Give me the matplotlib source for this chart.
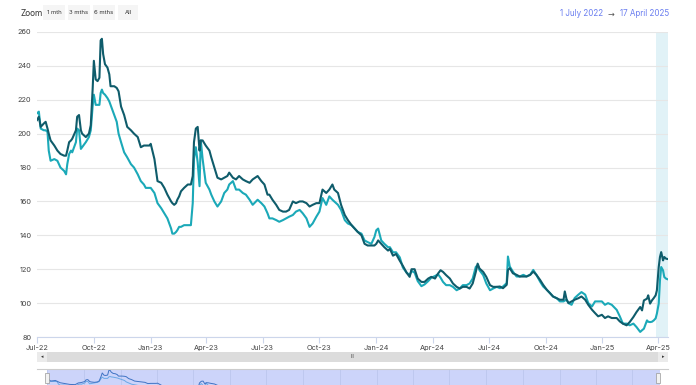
import matplotlib
matplotlib.use('Agg')
import matplotlib.pyplot as plt
import matplotlib.dates as mdates
from matplotlib.patches import Rectangle
import pandas as pd

plt.rcParams['font.family'] = ['Inter', 'DejaVu Sans']

# ---- data (two price series, Jul 2022 - Apr 2025) ----
dates = [
    '2022-07-01', '2022-07-04', '2022-07-07', '2022-07-12', '2022-07-15', '2022-07-18', '2022-07-20',
    '2022-07-23', '2022-07-29', '2022-08-03', '2022-08-08', '2022-08-14', '2022-08-17', '2022-08-19',
    '2022-08-22', '2022-08-25', '2022-08-27', '2022-09-02', '2022-09-04', '2022-09-07', '2022-09-10',
    '2022-09-12', '2022-09-18', '2022-09-23', '2022-09-26', '2022-09-29', '2022-10-01', '2022-10-04',
    '2022-10-07', '2022-10-10', '2022-10-12', '2022-10-14', '2022-10-16', '2022-10-19', '2022-10-23',
    '2022-10-26', '2022-10-28', '2022-11-03', '2022-11-07', '2022-11-10', '2022-11-14', '2022-11-19',
    '2022-11-24', '2022-11-30', '2022-12-05', '2022-12-11', '2022-12-16', '2022-12-21', '2022-12-24',
    '2022-12-30', '2023-01-01', '2023-01-07', '2023-01-12', '2023-01-18', '2023-01-23', '2023-01-28',
    '2023-02-03', '2023-02-05', '2023-02-08', '2023-02-11', '2023-02-13', '2023-02-16', '2023-02-19',
    '2023-02-24', '2023-03-02', '2023-03-07', '2023-03-10', '2023-03-12', '2023-03-15', '2023-03-18',
    '2023-03-21', '2023-03-23', '2023-03-26', '2023-03-31', '2023-04-06', '2023-04-09', '2023-04-14',
    '2023-04-19', '2023-04-25', '2023-04-30', '2023-05-05', '2023-05-08', '2023-05-14', '2023-05-19',
    '2023-05-24', '2023-05-30', '2023-06-04', '2023-06-10', '2023-06-15', '2023-06-23', '2023-06-29',
    '2023-07-04', '2023-07-09', '2023-07-12', '2023-07-17', '2023-07-23', '2023-07-28', '2023-08-03',
    '2023-08-08', '2023-08-13', '2023-08-19', '2023-08-24', '2023-08-30', '2023-09-04', '2023-09-10',
    '2023-09-15', '2023-09-20', '2023-09-26', '2023-10-01', '2023-10-06', '2023-10-12', '2023-10-17',
    '2023-10-22', '2023-10-25', '2023-10-31', '2023-11-05', '2023-11-11', '2023-11-16', '2023-11-22',
    '2023-11-27', '2023-12-02', '2023-12-08', '2023-12-13', '2023-12-18', '2023-12-24', '2023-12-29',
    '2024-01-01', '2024-01-04', '2024-01-09', '2024-01-14', '2024-01-20', '2024-01-23', '2024-01-28',
    '2024-02-02', '2024-02-08', '2024-02-13', '2024-02-19', '2024-02-24', '2024-02-27', '2024-03-03',
    '2024-03-08', '2024-03-14', '2024-03-19', '2024-03-25', '2024-03-30', '2024-04-05', '2024-04-10',
    '2024-04-14', '2024-04-18', '2024-04-23', '2024-04-29', '2024-05-04', '2024-05-10', '2024-05-15',
    '2024-05-20', '2024-05-26', '2024-05-31', '2024-06-05', '2024-06-10', '2024-06-13', '2024-06-16',
    '2024-06-22', '2024-06-27', '2024-07-03', '2024-07-08', '2024-07-14', '2024-07-19', '2024-07-24',
    '2024-07-30', '2024-08-01', '2024-08-04', '2024-08-09', '2024-08-15', '2024-08-20', '2024-08-26',
    '2024-08-31', '2024-09-06', '2024-09-11', '2024-09-16', '2024-09-22', '2024-09-27', '2024-10-03',
    '2024-10-08', '2024-10-13', '2024-10-19', '2024-10-24', '2024-10-30', '2024-11-01', '2024-11-04',
    '2024-11-07', '2024-11-12', '2024-11-17', '2024-11-23', '2024-11-28', '2024-12-04', '2024-12-09',
    '2024-12-15', '2024-12-20', '2024-12-25', '2024-12-31', '2025-01-05', '2025-01-10', '2025-01-16',
    '2025-01-24', '2025-01-29', '2025-02-03', '2025-02-09', '2025-02-14', '2025-02-20', '2025-02-25',
    '2025-03-03', '2025-03-06', '2025-03-09', '2025-03-14', '2025-03-16', '2025-03-19', '2025-03-22',
    '2025-03-25', '2025-03-28', '2025-03-30', '2025-04-02', '2025-04-04', '2025-04-06', '2025-04-09',
    '2025-04-11', '2025-04-14', '2025-04-17',
]

dark = [
    208, 210, 204, 206, 207, 203, 200, 196, 193, 190, 188, 187, 187, 190,
    195, 196, 197, 202, 210, 211, 202, 200, 198, 200, 205, 226, 243, 232,
    231, 233, 255, 256, 247, 241, 239, 235, 228, 228, 227, 225, 216, 211,
    204, 202, 200, 198, 192, 193, 193, 193, 194, 185, 172, 171, 168, 164,
    160, 159, 158, 159, 161, 163, 166, 168, 170, 170, 175, 195, 203, 204,
    190, 196, 196, 193, 190, 186, 180, 174, 173, 174, 175, 177, 174, 173,
    175, 173, 172, 171, 173, 175, 172, 170, 164, 164, 161, 158, 155, 154,
    154, 155, 160, 159, 160, 160, 159, 157, 158, 159, 159, 167, 165, 167,
    170, 167, 165, 158, 152, 149, 146, 144, 142, 140, 135, 134, 134, 134,
    135, 137, 135, 133, 131, 132, 128, 129, 125, 122, 118, 115.5, 120, 120,
    114.5, 112.5, 112.5, 114.5, 115.5, 114.5, 117.5, 119.4, 118.4, 116.5, 114.5, 111.6, 109.6, 108.6,
    109.6, 109.6, 108.6, 111.6, 118.4, 123.3, 120.4, 118.4, 115.5, 110.6, 109.6, 109.6, 109.8, 108.8,
    110.8, 119.6, 120.6, 117.6, 116.7, 115.7, 115.7, 115.7, 116.7, 118.6, 116.7, 113.7, 110.8, 107.8,
    105.9, 103.9, 102.9, 102, 102, 106.9, 102, 100, 101, 102, 102.9, 103.9, 102, 99,
    96.1, 94.1, 92.2, 93.1, 91.2, 92.2, 91.2, 91.2, 89.2, 87.9, 86.9, 88.8, 91.8, 94.7,
    97.7, 95.7, 101.6, 102.6, 104.6, 99.7, 101.6, 103, 104.6, 107.5, 121.3, 127.2, 130.1, 125.2,
    127.2, 126.2, 126,
]

light = [
    212, 213, 203, 202, 202, 201, 190, 184, 185, 184, 180, 178, 176, 182,
    188, 190, 189, 195, 203, 202, 191, 192, 195, 198, 202, 216, 223, 217,
    217, 217, 224, 226, 224, 223, 221, 219, 217, 211, 207, 200, 195, 189,
    186, 182, 180, 176, 172, 170, 168, 168, 168, 165, 159, 156, 153, 150,
    144, 141, 141, 142, 143, 145, 145, 146, 146, 146, 159, 185, 192, 183,
    169, 196, 185, 171, 167, 164, 160, 157, 160, 165, 167, 170, 172, 167,
    167, 165, 164, 161, 158, 161, 159, 157, 153, 150, 150, 149, 148, 149,
    150, 151, 152, 154, 155, 153, 150, 145, 147, 151, 154, 162, 158, 163,
    161, 160, 158, 155, 149, 147, 146, 144, 142, 141, 137, 136, 135, 139,
    143, 144, 137, 135, 133, 133, 130, 130, 127, 121, 118, 116.5, 119, 118,
    113, 110, 111, 113, 115, 116, 117, 115, 112.5, 110.6, 110.6, 109.6, 107.6, 108.6,
    110.6, 110.6, 111.6, 114.5, 121.4, 122.4, 119.4, 116.5, 111.6, 107.6, 108.6, 109.6, 108.8, 109.8,
    111.8, 127.5, 121.6, 118.6, 115.7, 115.7, 116.7, 115.7, 116.7, 119.6, 116.7, 112.7, 109.8, 107.8,
    105.9, 103.9, 102.9, 101, 101, 101.5, 102, 100, 99, 103, 105, 106.5, 105, 100,
    98, 101, 101, 101, 99, 100, 99, 96, 92.2, 87.9, 87.9, 86.9, 87.9, 85.9,
    83, 84, 84.9, 89.8, 89, 88.8, 89, 89.8, 91, 93.8, 99.7, 113.4, 121.3, 119.3,
    115.4, 114.4, 114,
]

yticks = [80, 100, 120, 140, 160, 180, 200, 220, 240, 260]
zoom_buttons = ['1 mth', '3 mths', '6 mths', 'All']
range_from = '1 July 2022'
range_to = '17 April 2025'
band_start = '2025-03-29'

x = pd.to_datetime(dates)
dark_col = '#0f5c6b'
light_col = '#1ba9b8'

W, H = 696, 385
fig = plt.figure(figsize=(W / 100, H / 100), dpi=100)


def fx(px):
    return px / W


def fy(py):
    return 1 - py / H


# ---- main plot ----
ax = fig.add_axes([fx(37), fy(337), fx(668 - 37), (337 - 32) / H])
ax.axvspan(pd.Timestamp(band_start), x[-1], color='#e1f2f7', lw=0, zorder=0)
ax.plot(x, light, color=light_col, lw=1.5, zorder=3)
ax.plot(x, dark, color=dark_col, lw=1.5, zorder=4)

ax.set_xlim(x[0], x[-1])
ax.set_ylim(80, 260)
ax.set_yticks(yticks)
ax.yaxis.grid(True, color='#e6e6e6', lw=0.8)
ax.set_axisbelow(True)
for s in ['top', 'right', 'left']:
    ax.spines[s].set_visible(False)
ax.spines['bottom'].set_color('#ccd6eb')
ax.spines['bottom'].set_linewidth(0.8)
ax.xaxis.set_major_locator(mdates.MonthLocator(bymonth=[1, 4, 7, 10]))
ax.xaxis.set_major_formatter(mdates.DateFormatter('%b-%y'))
ax.tick_params(axis='x', length=4, width=0.8, color='#ccd6eb', labelsize=5.3,
               labelcolor='#444444', pad=1.5)
ax.tick_params(axis='y', length=0, labelsize=5.3, labelcolor='#444444', pad=4)

# ---- header ----
fig.text(fx(21), fy(13), 'Zoom', fontsize=6, color='#333333', va='center', ha='left')
btn_x = [43, 68, 93, 118]
btn_w = [22, 22, 22, 20]
for bx, bw, lab in zip(btn_x, btn_w, zoom_buttons):
    fig.patches.append(Rectangle((fx(bx), fy(20)), fx(bw), 15 / H, transform=fig.transFigure,
                                 facecolor='#f5f5f5', edgecolor='none'))
    fig.text(fx(bx + bw / 2), fy(12.5), lab, fontsize=4.3, color='#333333',
             ha='center', va='center')
fig.text(fx(603), fy(14), range_from, fontsize=5.8, color='#6b7ff0', ha='right', va='center')
fig.text(fx(611), fy(14), '\u2192', fontsize=5.8, color='#555555', ha='center', va='center',
         family=['DejaVu Sans'])
fig.text(fx(620), fy(14), range_to, fontsize=5.8, color='#6b7ff0', ha='left', va='center')

# ---- scrollbar ----
fig.patches.append(Rectangle((fx(37), fy(362)), fx(631), 10 / H, transform=fig.transFigure,
                             facecolor='#dcdcdc', edgecolor='none'))
for bx in [37, 658]:
    fig.patches.append(Rectangle((fx(bx), fy(362)), fx(10), 10 / H, transform=fig.transFigure,
                                 facecolor='#ebebeb', edgecolor='none'))
fig.text(fx(42), fy(357), '\u25c2', fontsize=3.5, color='#333333', ha='center', va='center',
         family=['DejaVu Sans'])
fig.text(fx(663), fy(357), '\u25b8', fontsize=3.5, color='#333333', ha='center', va='center',
         family=['DejaVu Sans'])
fig.text(fx(352), fy(357), 'III', fontsize=3.5, color='#333333', ha='center', va='center')

# ---- navigator (partly below the image edge) ----
fig.lines.append(plt.Line2D([fx(37), fx(668)], [fy(369), fy(369)], transform=fig.transFigure,
                            color='#cccccc', lw=0.8))
nav = fig.add_axes([fx(47), fy(409), fx(660 - 47), 40 / H])
nav.set_facecolor('#ccd4fa')
nav.plot(x, light, color='#6aa8e6', lw=0.7)
nav.plot(x, dark, color='#3f73c4', lw=0.7)
nav.set_xlim(x[0], x[-1])
nav.set_ylim(70, 262)
nav.xaxis.set_major_locator(mdates.MonthLocator(bymonth=[1, 3, 5, 7, 9, 11]))
nav.xaxis.grid(True, color='#bcc6ee', lw=0.6)
nav.set_xticklabels([])
nav.set_yticks([])
nav.tick_params(length=0)
for s in nav.spines.values():
    s.set_visible(False)
for hx in [45, 656]:
    fig.patches.append(Rectangle((fx(hx), fy(383)), fx(4), 10 / H, transform=fig.transFigure,
                                 facecolor='#f2f2f2', edgecolor='#999999', lw=0.5))

fig.savefig('out.png', dpi=100)
